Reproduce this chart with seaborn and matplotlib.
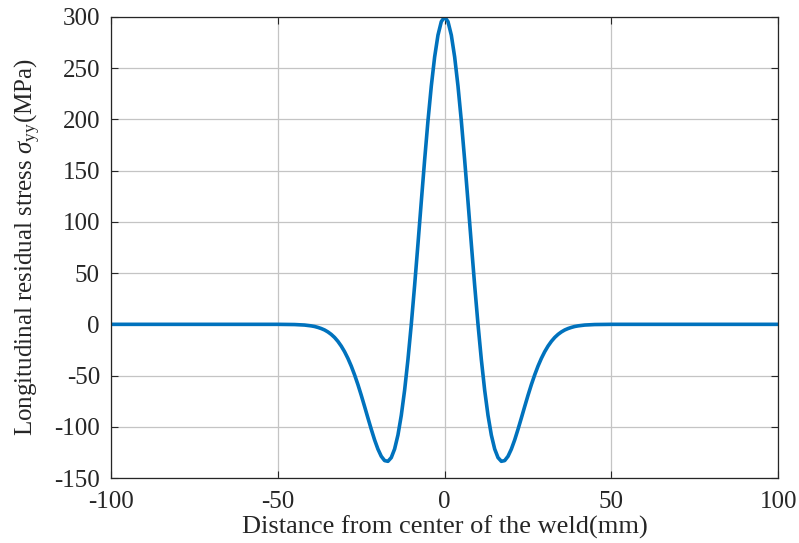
import matplotlib
matplotlib.use("Agg")
import matplotlib.pyplot as plt
import seaborn as sns
import pandas as pd

# Longitudinal residual stress profile across the weld (mm, MPa), symmetric about the centre line
half_x = [0, 1, 2, 3, 4, 5, 6, 7, 8, 9, 10, 11, 12, 13, 14, 15, 16, 17, 18, 19,
          20, 21, 22, 23, 24, 25, 26, 27, 28, 29, 30, 31, 32, 33, 34, 35, 36, 37,
          38, 39, 40, 42, 45, 50, 100]
half_stress = [300.0, 295.5, 282.3, 261.0, 232.6, 198.6, 160.4, 119.8, 78.4, 38.0,
               0.0, -34.4, -64.3, -88.9, -108.1, -121.7, -130.1, -133.7, -133.0, -128.8,
               -121.8, -112.8, -102.4, -91.4, -80.2, -69.2, -58.8, -49.3, -40.7, -33.2,
               -26.7, -21.2, -16.6, -12.8, -9.8, -7.4, -5.5, -4.1, -3.0, -2.1,
               -1.5, -0.7, -0.2, 0.0, 0.0]

x_ticks = [-100, -50, 0, 50, 100]
y_ticks = [-150, -100, -50, 0, 50, 100, 150, 200, 250, 300]

distance = [-v for v in half_x[:0:-1]] + half_x
stress = half_stress[:0:-1] + half_stress
df = pd.DataFrame({"distance": distance, "stress": stress})

sns.set_theme(style="ticks")
plt.rcParams["font.family"] = ["Liberation Serif", "DejaVu Serif"]
plt.rcParams["mathtext.fontset"] = "custom"
plt.rcParams["mathtext.rm"] = "Liberation Serif"
plt.rcParams["mathtext.it"] = "Liberation Serif:italic"

fig = plt.figure(figsize=(7.99, 5.43), dpi=100)
ax = fig.add_axes([0.139, 0.1197, 0.835, 0.849])

sns.lineplot(data=df, x="distance", y="stress", ax=ax, color="#0072BD",
             linewidth=2.6, sort=False, estimator=None)

ax.set_xlim(-100, 100)
ax.set_ylim(-150, 300)
ax.set_xticks(x_ticks)
ax.set_yticks(y_ticks)
ax.set_xticklabels([str(t) for t in x_ticks])
ax.set_yticklabels([str(t) for t in y_ticks])
ax.grid(True, color="#c4c4c4", linewidth=0.9)
ax.set_axisbelow(True)
for s in ax.spines.values():
    s.set_color("#262626")
    s.set_linewidth(0.9)
ax.tick_params(axis="both", direction="in", length=5, width=0.8, colors="#262626",
               labelsize=18, top=True, right=True)
ax.tick_params(axis="x", pad=9)
ax.tick_params(axis="y", pad=8)
ax.set_xlabel("Distance from center of the weld(mm)", fontsize=19, color="#262626",
              labelpad=2)
ax.set_ylabel(r"Longitudinal residual stress $\sigma_{\rm yy}$(MPa)", fontsize=18,
              color="#262626", labelpad=8)

fig.savefig("out.png", dpi=100)
